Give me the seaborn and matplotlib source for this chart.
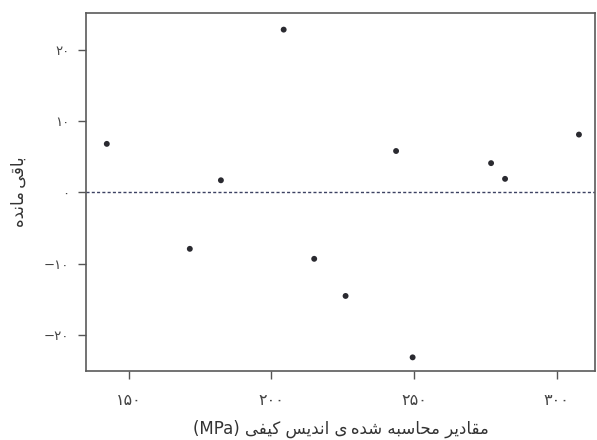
import numpy as np
import pandas as pd
import seaborn as sns
import matplotlib
matplotlib.use("Agg")
import matplotlib.pyplot as plt

# values
fitted = [142.3, 171.4, 182.3, 204.3, 215.0, 226.0, 243.7, 249.5, 277.0, 281.9, 307.8]
residual = [6.8, -7.9, 1.7, 22.8, -9.3, -14.5, 5.8, -23.1, 4.1, 1.9, 8.1]
x_ticks = [150, 200, 250, 300]
y_ticks = [-20, -10, 0, 10, 20]

x_title = "مقادیر محاسبه شده‌ی اندیس کیفی"
x_unit = "(MPa)"
y_title = "باقی‌مانده"

# isolated, final, initial, medial presentation forms
FORMS = {
    "ا": ("\uFE8D", "\uFE8E", None, None),
    "ب": ("\uFE8F", "\uFE90", "\uFE91", "\uFE92"),
    "ح": ("\uFEA1", "\uFEA2", "\uFEA3", "\uFEA4"),
    "د": ("\uFEA9", "\uFEAA", None, None),
    "ر": ("\uFEAD", "\uFEAE", None, None),
    "س": ("\uFEB1", "\uFEB2", "\uFEB3", "\uFEB4"),
    "ش": ("\uFEB5", "\uFEB6", "\uFEB7", "\uFEB8"),
    "ف": ("\uFED1", "\uFED2", "\uFED3", "\uFED4"),
    "ق": ("\uFED5", "\uFED6", "\uFED7", "\uFED8"),
    "م": ("\uFEE1", "\uFEE2", "\uFEE3", "\uFEE4"),
    "ن": ("\uFEE5", "\uFEE6", "\uFEE7", "\uFEE8"),
    "ه": ("\uFEE9", "\uFEEA", "\uFEEB", "\uFEEC"),
    "ی": ("\uFBFC", "\uFBFD", "\uFBFE", "\uFBFF"),
    "ک": ("\uFB8E", "\uFB8F", "\uFB90", "\uFB91"),
}


def shape(text):
    # join the letters and put them in visual (left to right) order
    out = []
    for i, ch in enumerate(text):
        if ch not in FORMS:
            if ch == "\u200c":
                out.append("\u2009")
            else:
                out.append(ch)
            continue
        prev = text[i - 1] if i > 0 else ""
        nxt = text[i + 1] if i + 1 < len(text) else ""
        join_prev = prev in FORMS and FORMS[prev][2] is not None
        join_next = nxt in FORMS and FORMS[ch][2] is not None
        iso, fin, ini, med = FORMS[ch]
        if join_prev and join_next:
            out.append(med)
        elif join_prev:
            out.append(fin)
        elif join_next:
            out.append(ini)
        else:
            out.append(iso)
    return "".join(out)[::-1]


def fa_num(v):
    s = str(abs(v)).translate(str.maketrans("0123456789", "۰۱۲۳۴۵۶۷۸۹"))
    return ("\u2212" + s) if v < 0 else s


df = pd.DataFrame({"fitted": fitted, "residual": residual})

sns.set_theme(style="white")
plt.rcParams["font.family"] = ["DejaVu Sans"]

fig = plt.figure(figsize=(5.97, 4.4), dpi=100)
ax = fig.add_axes([0.144, 0.157, 0.853, 0.813])

sns.scatterplot(data=df, x="fitted", y="residual", ax=ax, color="#2a2a30",
                s=18, edgecolor="none", zorder=3)
ax.axhline(0, color="#3c4262", lw=1.0, ls=(0, (2.2, 1.6)), zorder=2)

ax.set_xlim(135, 313.5)
ax.set_ylim(-25, 25.1)
ax.set_xticks(x_ticks)
ax.set_xticklabels([fa_num(v) for v in x_ticks], fontsize=11.5, color="#444444")
ax.set_yticks(y_ticks)
ax.set_yticklabels([fa_num(v) for v in y_ticks], fontsize=9.5, color="#444444")
ax.tick_params(axis="both", direction="out", length=6, width=1, color="#555555",
               bottom=True, left=True)
ax.tick_params(axis="x", pad=10)
ax.tick_params(axis="y", pad=6)

for sp in ax.spines.values():
    sp.set_color("#5a5a5a")
    sp.set_linewidth(1.2)

ax.set_xlabel(x_unit + " " + shape(x_title), fontsize=12, color="#333333", labelpad=8)
ax.set_ylabel(shape(y_title), fontsize=12, color="#333333", labelpad=12)

fig.savefig("out.png", dpi=100)
